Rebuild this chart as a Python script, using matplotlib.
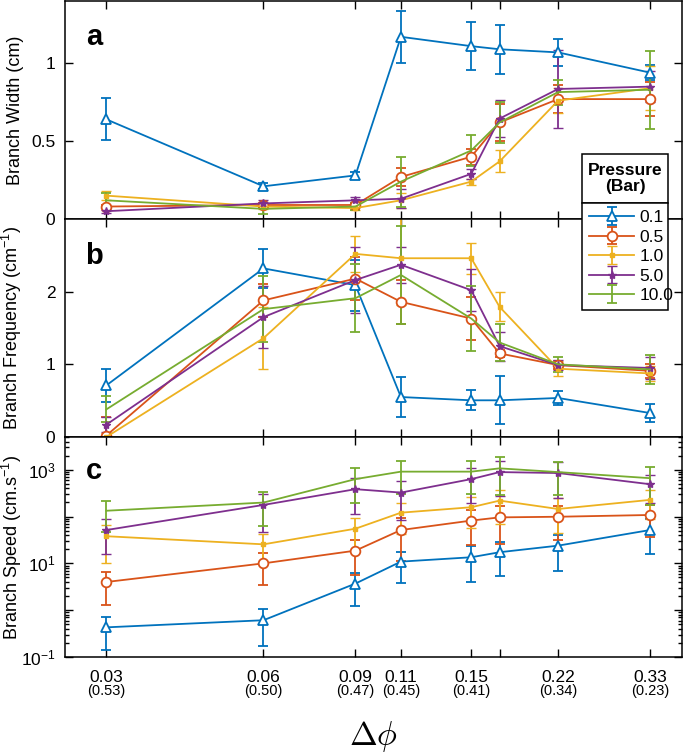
import matplotlib
matplotlib.use("Agg")
import matplotlib.pyplot as plt
import matplotlib.ticker as mticker
from matplotlib.patches import Rectangle
import numpy as np

plt.rcParams['font.family'] = ['Liberation Sans', 'DejaVu Sans']
plt.rcParams['mathtext.fontset'] = 'custom'
plt.rcParams['mathtext.rm'] = 'Liberation Sans'
plt.rcParams['mathtext.it'] = 'Liberation Sans:italic'
plt.rcParams['mathtext.bf'] = 'Liberation Sans:bold'

# ---------------- data ----------------
dphi = [0.03, 0.06, 0.09, 0.11, 0.15, 0.17, 0.22, 0.33]
tick_top = ['0.03', '0.06', '0.09', '0.11', '0.15', '', '0.22', '0.33']
tick_sub = ['(0.53)', '(0.50)', '(0.47)', '(0.45)', '(0.41)', '', '(0.34)', '(0.23)']
pressures = ['0.1', '0.5', '1.0', '5.0', '10.0']

width_p01 = [0.64, 0.21, 0.28, 1.17, 1.11, 1.09, 1.07, 0.94]
width_p05 = [0.08, 0.09, 0.09, 0.27, 0.40, 0.62, 0.77, 0.77]
width_p1 = [0.15, 0.08, 0.07, 0.12, 0.24, 0.37, 0.76, 0.84]
width_p5 = [0.05, 0.10, 0.12, 0.13, 0.29, 0.645, 0.835, 0.85]
width_p10 = [0.12, 0.065, 0.08, 0.24, 0.44, 0.62, 0.815, 0.83]
width_e01 = [0.135, 0.02, 0.02, 0.165, 0.156, 0.156, 0.086, 0.05]
width_e05 = [0.01, 0.015, 0.015, 0.06, 0.05, 0.12, 0.09, 0.11]
width_e1 = [0.03, 0.015, 0.015, 0.05, 0.02, 0.07, 0.08, 0.14]
width_e5 = [0.01, 0.02, 0.02, 0.06, 0.03, 0.12, 0.25, 0.10]
width_e10 = [0.05, 0.03, 0.02, 0.16, 0.10, 0.13, 0.08, 0.25]

freq_p01 = [0.71, 2.32, 2.09, 0.55, 0.505, 0.505, 0.537, 0.33]
freq_p05 = [0.02, 1.88, 2.18, 1.86, 1.63, 1.15, 0.99, 0.91]
freq_p1 = [0.0, 1.36, 2.52, 2.46, 2.46, 1.79, 0.94, 0.875]
freq_p5 = [0.17, 1.65, 2.16, 2.37, 2.02, 1.25, 0.99, 0.95]
freq_p10 = [0.38, 1.76, 1.91, 2.23, 1.63, 1.30, 1.00, 0.93]
freq_e01 = [0.23, 0.27, 0.35, 0.27, 0.14, 0.33, 0.10, 0.13]
freq_e05 = [0.25, 0.23, 0.30, 0.30, 0.30, 0.05, 0.05, 0.10]
freq_e1 = [0.05, 0.43, 0.25, 0.65, 0.21, 0.20, 0.10, 0.10]
freq_e5 = [0.10, 0.43, 0.46, 0.25, 0.29, 0.20, 0.07, 0.15]
freq_e10 = [0.18, 0.45, 0.47, 0.68, 0.45, 0.25, 0.10, 0.20]

speed_p01 = [0.43, 0.61, 3.7, 10.9, 13.5, 17.3, 23.9, 51.5]
speed_p05 = [4.0, 10.0, 18.7, 51.5, 82.0, 96.0, 99.0, 108.0]
speed_p1 = [38.0, 25.5, 55.0, 121.0, 158.0, 219.0, 145.0, 227.0]
speed_p5 = [51.5, 177.0, 384.0, 325.0, 630.0, 890.0, 850.0, 490.0]
speed_p10 = [133.0, 199.0, 630.0, 910.0, 910.0, 1070.0, 890.0, 660.0]
speed_e01 = [0.29, 0.44, 2.5, 7.0, 9.5, 12.0, 17.0, 36.0]
speed_e05 = [2.7, 6.5, 13.0, 40.0, 57.0, 70.0, 68.0, 72.0]
speed_e1 = [28.0, 16.0, 37.0, 78.0, 100.0, 150.0, 100.0, 140.0]
speed_e5 = [36.0, 130.0, 270.0, 240.0, 440.0, 610.0, 600.0, 300.0]
speed_e10 = [86.0, 135.0, 440.0, 600.0, 600.0, 780.0, 600.0, 480.0]

colors = ['#0072BD', '#D95319', '#EDB120', '#7E2F8E', '#77AC30']
styles = [dict(marker='^', ms=7, mfc='white', mew=1.3),
          dict(marker='o', ms=7, mfc='white', mew=1.3),
          dict(marker='s', ms=3.5, mew=1.0),
          dict(marker='*', ms=6, mew=1.0),
          dict(marker='None')]

W, H = 685, 754
fig = plt.figure(figsize=(W / 100, H / 100), dpi=100)

def fx(px):
    return px / W

def fy(py):
    return 1 - py / H

left, right = 65, 682
axa = fig.add_axes([fx(left), fy(219), fx(right - left), (219 - 1) / H])
axb = fig.add_axes([fx(left), fy(437), fx(right - left), (437 - 219) / H])
axc = fig.add_axes([fx(left), fy(657), fx(right - left), (657 - 437) / H])

panels = [
    (axa, [width_p01, width_p05, width_p1, width_p5, width_p10],
     [width_e01, width_e05, width_e1, width_e5, width_e10]),
    (axb, [freq_p01, freq_p05, freq_p1, freq_p5, freq_p10],
     [freq_e01, freq_e05, freq_e1, freq_e5, freq_e10]),
    (axc, [speed_p01, speed_p05, speed_p1, speed_p5, speed_p10],
     [speed_e01, speed_e05, speed_e1, speed_e5, speed_e10]),
]

handles = []
for ax, ys, es in panels:
    hs = []
    for i, (y, e) in enumerate(zip(ys, es)):
        c = colors[i]
        h = ax.errorbar(dphi, y, yerr=e, color=c, lw=1.3, elinewidth=1.3,
                        capsize=3.5, capthick=1.3, mec=c, **styles[i])
        hs.append(h)
    handles = hs
    ax.set_xscale('log')
    ax.set_xlim(0.025, 0.38)
    ax.set_xticks(dphi)
    ax.xaxis.set_minor_locator(mticker.NullLocator())
    ax.tick_params(which='both', direction='in', top=True, right=True,
                   labelsize=12.5, width=1.0, pad=7)
    ax.tick_params(which='major', length=6)
    ax.tick_params(which='minor', length=3)
    for s in ax.spines.values():
        s.set_linewidth(1.1)

axa.set_ylim(0, 1.4)
axa.set_yticks([0, 0.5, 1])
axa.set_yticklabels(['0', '0.5', '1'])
axa.set_xticklabels([])
axa.set_ylabel('Branch Width (cm)', fontsize=13)

axb.set_ylim(0, 3)
axb.set_yticks([0, 1, 2])
axb.set_xticklabels([])
axb.set_ylabel('Branch Frequency (cm$^{-1}$)', fontsize=13)

axc.set_yscale('log')
axc.set_ylim(0.1, 5000)
axc.yaxis.set_major_locator(mticker.FixedLocator([1e-1, 1, 1e1, 1e2, 1e3]))
axc.yaxis.set_major_formatter(mticker.FixedFormatter(
    ['$10^{-1}$', '', '$10^{1}$', '', '$10^{3}$']))
axc.yaxis.set_minor_locator(mticker.LogLocator(base=10, subs=np.arange(2, 10), numticks=20))
axc.yaxis.set_minor_formatter(mticker.NullFormatter())
axc.set_xticklabels(tick_top)
axc.tick_params(axis='x', labelsize=12.5, pad=9)
axc.set_ylabel('Branch Speed (cm.s$^{-1}$)', fontsize=13)

for ax in (axa, axb, axc):
    ax.yaxis.set_label_coords(-0.066, 0.5)

for xv, lab in zip(dphi, tick_sub):
    if lab:
        axc.annotate(lab, xy=(xv, 0), xycoords=('data', 'axes fraction'),
                     xytext=(0, -34), textcoords='offset pixels',
                     ha='center', va='center', fontsize=10.5)

for ax, lab, pos in zip((axa, axb, axc), ['a', 'b', 'c'],
                        [(29 / 617, 1 - 36 / 218), (29 / 617, 1 - 37 / 218),
                         (29 / 617, 1 - 34 / 220)]):
    ax.text(pos[0], pos[1], lab, transform=ax.transAxes,
            fontsize=21, fontweight='bold', ha='center', va='center')

fig.text(fx(373.5), fy(737), r'$\Delta\phi$', math_fontfamily='cm',
         fontsize=24, ha='center', va='center')

# legend
lx0, lx1 = 582, 668
leg = fig.legend(handles, pressures, loc='upper left',
                 bbox_to_anchor=(fx(lx0), fy(307), fx(lx1 - lx0), (307 - 203) / H),
                 mode='expand', borderaxespad=0, frameon=True, fancybox=False,
                 edgecolor='black', framealpha=1, fontsize=12.5,
                 handlelength=2.6, handletextpad=0.3, labelspacing=0.25,
                 borderpad=0.4)
leg.get_frame().set_linewidth(1.1)
leg.set_zorder(10)
rect = Rectangle((fx(lx0), fy(203)), fx(lx1 - lx0), (203 - 154) / H,
                 transform=fig.transFigure, facecolor='white', edgecolor='black',
                 lw=1.1, zorder=10)
fig.patches.append(rect)
fig.text(fx((lx0 + lx1) / 2), fy(178.5), 'Pressure\n(Bar)', fontsize=12.5,
         fontweight='bold', ha='center', va='center', linespacing=1.15, zorder=11)

fig.savefig('out.png', dpi=100)
